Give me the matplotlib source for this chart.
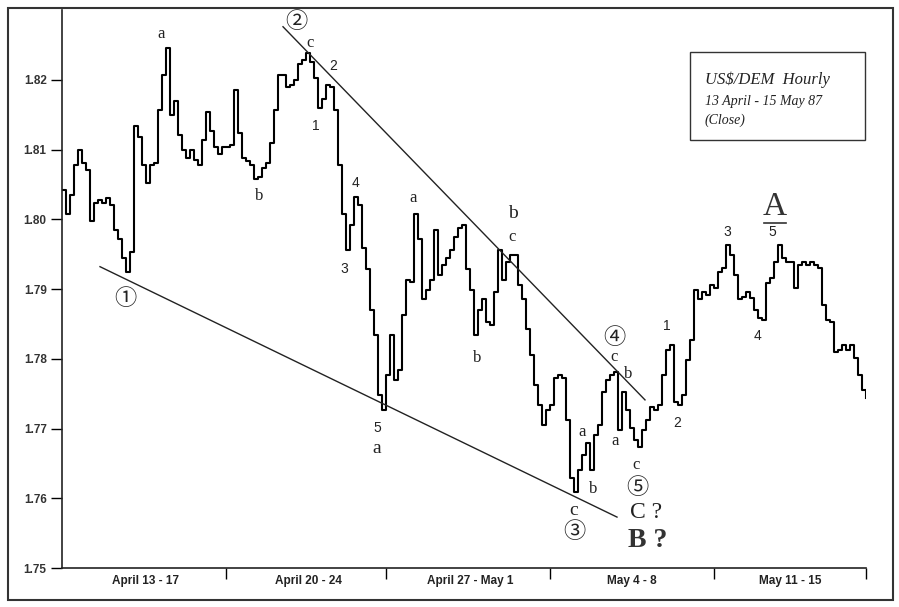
import matplotlib
matplotlib.use("Agg")
import matplotlib.pyplot as plt
from matplotlib.patches import Rectangle
import numpy as np

# Hourly closes (US$/DEM), 13 April - 15 May 1987
prices = [
    1.8042, 1.8007, 1.8035, 1.8078, 1.8100, 1.8081, 1.8071, 1.7997, 1.8024, 1.8028,
    1.8024, 1.8031, 1.8021, 1.7985, 1.7971, 1.7945, 1.7925, 1.7953, 1.8133, 1.8118,
    1.8078, 1.8052, 1.8078, 1.8081, 1.8157, 1.8207, 1.8246, 1.8150, 1.8169, 1.8121,
    1.8100, 1.8088, 1.8100, 1.8085, 1.8078, 1.8114, 1.8154, 1.8126, 1.8103, 1.8093,
    1.8104, 1.8104, 1.8107, 1.8186, 1.8124, 1.8088, 1.8083, 1.8078, 1.8057, 1.8060,
    1.8074, 1.8081, 1.8110, 1.8157, 1.8207, 1.8207, 1.8189, 1.8193, 1.8200, 1.8222,
    1.8229, 1.8239, 1.8226, 1.8203, 1.8160, 1.8172, 1.8193, 1.8189, 1.8157, 1.8078,
    1.8007, 1.7956, 1.7992, 1.8032, 1.8021, 1.7959, 1.7928, 1.7870, 1.7834, 1.7748,
    1.7727, 1.7777, 1.7834, 1.7770, 1.7784, 1.7863, 1.7913, 1.7910, 1.8007, 1.7971,
    1.7885, 1.7899, 1.7913, 1.7985, 1.7920, 1.7935, 1.7945, 1.7956, 1.7974, 1.7988,
    1.7992, 1.7928, 1.7899, 1.7834, 1.7870, 1.7885, 1.7853, 1.7849, 1.7896, 1.7956,
    1.7913, 1.7939, 1.7949, 1.7949, 1.7906, 1.7885, 1.7842, 1.7806, 1.7763, 1.7734,
    1.7705, 1.7727, 1.7734, 1.7773, 1.7777, 1.7773, 1.7712, 1.7629, 1.7609, 1.7641,
    1.7662, 1.7679, 1.7641, 1.7691, 1.7705, 1.7753, 1.7770, 1.7777, 1.7781, 1.7698,
    1.7753, 1.7727, 1.7701, 1.7684, 1.7674, 1.7698, 1.7712, 1.7731, 1.7727, 1.7734,
    1.7777, 1.7813, 1.7820, 1.7738, 1.7734, 1.7748, 1.7798, 1.7827, 1.7899, 1.7885,
    1.7896, 1.7892, 1.7906, 1.7902, 1.7925, 1.7930, 1.7963, 1.7949, 1.7920, 1.7885,
    1.7889, 1.7896, 1.7887, 1.7870, 1.7859, 1.7856, 1.7909, 1.7916, 1.7939, 1.7963,
    1.7945, 1.7939, 1.7939, 1.7902, 1.7935, 1.7939, 1.7935, 1.7939, 1.7935, 1.7930,
    1.7877, 1.7856, 1.7853, 1.7810, 1.7813, 1.7820, 1.7813, 1.7820, 1.7801, 1.7777,
    1.7755, 1.7744,
]

week_labels = ["April 13 - 17", "April 20 - 24", "April 27 - May 1", "May 4 - 8", "May 11 - 15"]
week_bounds = [41, 81, 122, 163, 201]
week_centres = [20.75, 61.5, 102, 142.5, 182]

y_ticks = [1.75, 1.76, 1.77, 1.78, 1.79, 1.80, 1.81, 1.82]

# trend lines (x in hours, price)
upper_line_x = [55.25, 145.75]
upper_line_y = [1.8276, 1.7741]
lower_line_x = [9.5, 138.75]
lower_line_y = [1.7932, 1.7573]

# wave labels: (text, x, price, style)
labels = [
    ("a", 24.75, 1.8265, "serif"),
    ("b", 49.25, 1.8034, "serif"),
    ("\u2460", 15.75, 1.7887, "circ"),
    ("\u2461", 58.5, 1.8284, "circ"),
    ("c", 62.0, 1.8252, "serif"),
    ("2", 67.75, 1.8219, "sans"),
    ("1", 63.5, 1.8133, "sans"),
    ("4", 73.25, 1.8052, "sans"),
    ("3", 70.5, 1.7929, "sans"),
    ("5", 78.75, 1.7701, "sans"),
    ("a", 78.75, 1.7672, "serifL"),
    ("a", 87.75, 1.8031, "serif"),
    ("b", 103.75, 1.7801, "serif"),
    ("b", 112.75, 1.8008, "serifL"),
    ("c", 112.5, 1.7975, "serif"),
    ("\u2463", 138.0, 1.7831, "circ"),
    ("c", 138.0, 1.7803, "serif"),
    ("b", 141.5, 1.7778, "serif"),
    ("a", 138.25, 1.7682, "serif"),
    ("a", 130.0, 1.7695, "serif"),
    ("b", 132.75, 1.7613, "serif"),
    ("c", 128.0, 1.7582, "serifL"),
    ("\u2462", 128.0, 1.7553, "circ"),
    ("c", 143.5, 1.7648, "serif"),
    ("\u2464", 143.75, 1.7615, "circ"),
    ("1", 151.25, 1.7847, "sans"),
    ("2", 153.75, 1.7708, "sans"),
    ("3", 166.25, 1.7982, "sans"),
    ("4", 174.0, 1.7833, "sans"),
    ("5", 177.5, 1.7982, "sans"),
]

fig = plt.figure(figsize=(8.99, 6.07), dpi=100)
ax = fig.add_axes([62 / 899, 1 - 568 / 607, (866 - 62) / 899, (568 - 10) / 607])

x = np.arange(len(prices))
ax.plot(x, prices, color="black", lw=1.5, drawstyle="steps-post")

ax.plot(upper_line_x, upper_line_y, color="#222222", lw=1.0)
ax.plot(lower_line_x, lower_line_y, color="#222222", lw=1.0)

ax.set_xlim(0, 201)
ax.set_ylim(1.75, 1.830)

for s in ["top", "right"]:
    ax.spines[s].set_visible(False)
for s in ["left", "bottom"]:
    ax.spines[s].set_linewidth(1.2)
    ax.spines[s].set_color("#222222")

ax.set_yticks(y_ticks)
ax.set_yticklabels([f"{v:.2f}" for v in y_ticks], fontsize=8.5,
                   family=["Liberation Sans"], fontweight="bold", color="#333333")
ax.tick_params(axis="y", direction="out", length=8, width=1, pad=3)

ax.set_xticks(week_bounds)
ax.set_xticklabels([])
ax.tick_params(axis="x", which="major", direction="out", length=8, width=1)
ax.set_xticks(week_centres, minor=True)
ax.set_xticklabels(week_labels, minor=True, fontsize=8.5, fontweight="bold",
                   family=["Liberation Sans Narrow", "Liberation Sans"], color="#222222")
ax.tick_params(axis="x", which="minor", length=0, pad=5)

styles = {
    "serif": dict(family=["Liberation Serif"], fontsize=12),
    "serifL": dict(family=["Liberation Serif"], fontsize=14),
    "sans": dict(family=["Liberation Sans"], fontsize=10),
    "circ": dict(family=["Noto Sans CJK JP", "DejaVu Sans"], fontsize=16),
}
for t, xx, yy, st in labels:
    ax.text(xx, yy, t, ha="center", va="center", color="#222222", **styles[st])

ax.text(142.0, 1.7579, "C ?", ha="left", va="center", family=["Liberation Serif"],
        fontsize=17, color="#222222")
ax.text(141.5, 1.7540, "B ?", ha="left", va="center", family=["Liberation Serif"],
        fontsize=20, fontweight="bold", color="#333333")
ax.text(178.25, 1.8018, "A", ha="center", va="center", family=["Liberation Serif"],
        fontsize=24, color="#333333")
ax.plot([175.5, 181.0], [1.7995, 1.7995], color="#333333", lw=1.2)

# legend box
fig.patches.append(Rectangle((690 / 899, 1 - 140 / 607), 175 / 899, 88 / 607,
                             transform=fig.transFigure, fill=False, lw=1.0,
                             edgecolor="#333333"))
fig.text(705 / 899, 1 - 80 / 607, "US$/DEM  Hourly", family=["Liberation Serif"],
         style="italic", fontsize=12, va="center", ha="left", color="#222222")
fig.text(705 / 899, 1 - 101 / 607, "13 April - 15 May 87", family=["Liberation Serif"],
         style="italic", fontsize=10, va="center", ha="left", color="#222222")
fig.text(705 / 899, 1 - 120 / 607, "(Close)", family=["Liberation Serif"],
         style="italic", fontsize=10, va="center", ha="left", color="#222222")

# outer frame
fig.patches.append(Rectangle((8 / 899, 1 - 600 / 607), 885 / 899, 592 / 607,
                             transform=fig.transFigure, fill=False, lw=1.5,
                             edgecolor="#333333"))

fig.savefig("out.png", dpi=100, facecolor="white")
